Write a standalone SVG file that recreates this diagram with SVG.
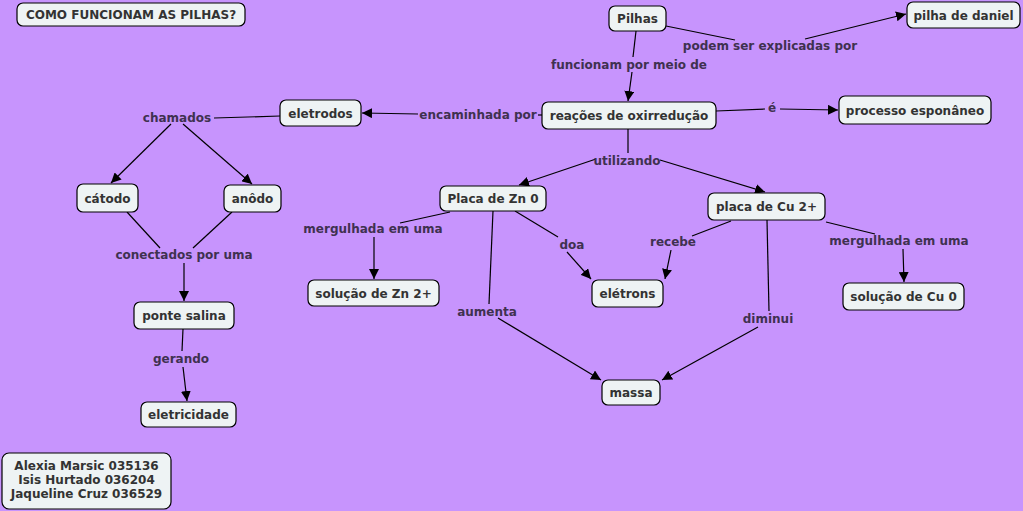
<svg xmlns="http://www.w3.org/2000/svg" width="1023" height="511" viewBox="0 0 1023 511">
<style>
.n rect{fill:#eef3f4;stroke:#000;stroke-width:1.2}
.n text{font-family:"DejaVu Sans",Verdana,sans-serif;font-weight:bold;font-size:12px;fill:#333;text-anchor:middle}
.l{font-family:"DejaVu Sans",Verdana,sans-serif;font-weight:bold;font-size:12px;fill:#3f3150;text-anchor:middle}
.c line,.c polyline{stroke:#000;stroke-width:1.2;fill:none}
.a{marker-end:url(#ah)}
</style>
<defs>
<marker id="ah" viewBox="0 0 10 10" refX="10" refY="5" markerWidth="10" markerHeight="10" markerUnits="userSpaceOnUse" orient="auto"><path d="M0,0L10,5L0,10z" fill="#000"/></marker>
</defs>
<rect width="1023" height="511" fill="#c794fd"/>
<g class="c">
<line x1="666" y1="26" x2="735" y2="40"/><line class="a" x1="805" y1="39" x2="906" y2="14"/>
<line x1="636" y1="31" x2="633" y2="57"/><line class="a" x1="632" y1="72" x2="628" y2="101"/>
<line x1="716" y1="111" x2="765" y2="109"/><line class="a" x1="780" y1="109" x2="838" y2="110"/>
<line x1="542" y1="115" x2="538" y2="115"/><line class="a" x1="418" y1="114" x2="362" y2="113"/>
<line x1="280" y1="116" x2="214" y2="118"/>
<line class="a" x1="171" y1="124" x2="111" y2="183"/>
<line class="a" x1="183" y1="124" x2="252" y2="184"/>
<line x1="127" y1="212" x2="160" y2="248"/><line x1="232" y1="212" x2="193" y2="248"/>
<line class="a" x1="184" y1="263" x2="184" y2="301"/>
<line x1="183" y1="329" x2="182" y2="351"/><line class="a" x1="183" y1="367" x2="187" y2="401"/>
<line x1="628" y1="129" x2="628" y2="153"/>
<line class="a" x1="596" y1="159" x2="519" y2="185"/>
<line class="a" x1="660" y1="160" x2="765" y2="192"/>
<line x1="450" y1="212" x2="400" y2="223"/><line class="a" x1="374" y1="237" x2="374" y2="279"/>
<line x1="515" y1="211" x2="558" y2="237"/><line class="a" x1="567" y1="252" x2="591" y2="279"/>
<line x1="731" y1="221" x2="692" y2="236"/><line class="a" x1="671" y1="250" x2="665" y2="279"/>
<line x1="826" y1="222" x2="875" y2="234"/><line class="a" x1="903" y1="249" x2="904" y2="282"/>
<line x1="493" y1="211" x2="489" y2="304"/><line class="a" x1="498" y1="318" x2="601" y2="380"/>
<line x1="767" y1="220" x2="769" y2="311"/><line class="a" x1="758" y1="327" x2="662" y2="380"/>
</g>
<text class="l" x="770" y="50">podem ser explicadas por</text>
<text class="l" x="629" y="69">funcionam por meio de</text>
<text class="l" x="772" y="112">é</text>
<text class="l" x="478" y="119">encaminhada por</text>
<text class="l" x="177" y="122">chamados</text>
<text class="l" x="627" y="165">utilizando</text>
<text class="l" x="184" y="259">conectados por uma</text>
<text class="l" x="181" y="363">gerando</text>
<text class="l" x="373" y="233">mergulhada em uma</text>
<text class="l" x="572" y="249">doa</text>
<text class="l" x="673" y="246">recebe</text>
<text class="l" x="899" y="245">mergulhada em uma</text>
<text class="l" x="487" y="316">aumenta</text>
<text class="l" x="768" y="323">diminui</text>
<g id="titulo" class="n"><rect x="17" y="3" width="228" height="23" rx="6"/><text x="131" y="19">COMO FUNCIONAM AS PILHAS?</text></g>
<g id="pilhas" class="n"><rect x="609" y="6" width="57" height="25" rx="6"/><text x="637.5" y="23">Pilhas</text></g>
<g id="daniel" class="n"><rect x="907" y="2" width="113" height="26" rx="6"/><text x="963.5" y="19.5">pilha de daniel</text></g>
<g id="reacoes" class="n"><rect x="542" y="102" width="174" height="27" rx="6"/><text x="629" y="120">reações de oxirredução</text></g>
<g id="processo" class="n"><rect x="839" y="96" width="152" height="28" rx="6"/><text x="915" y="114.5">processo esponâneo</text></g>
<g id="eletrodos" class="n"><rect x="280" y="100" width="81" height="26" rx="6"/><text x="320.5" y="117.5">eletrodos</text></g>
<g id="catodo" class="n"><rect x="77" y="184" width="61" height="28" rx="6"/><text x="107.5" y="202.5">cátodo</text></g>
<g id="anodo" class="n"><rect x="224" y="185" width="57" height="27" rx="6"/><text x="252.5" y="203">anôdo</text></g>
<g id="ponte" class="n"><rect x="134" y="302" width="100" height="27" rx="6"/><text x="184" y="320">ponte salina</text></g>
<g id="eletricidade" class="n"><rect x="141" y="402" width="95" height="25" rx="6"/><text x="188.5" y="419">eletricidade</text></g>
<g id="zn" class="n"><rect x="440" y="186" width="106" height="25" rx="6"/><text x="493" y="203">Placa de Zn 0</text></g>
<g id="cu" class="n"><rect x="708" y="193" width="117" height="27" rx="6"/><text x="766.5" y="211">placa de Cu 2+</text></g>
<g id="solzn" class="n"><rect x="308" y="280" width="131" height="26" rx="6"/><text x="373.5" y="297.5">solução de Zn 2+</text></g>
<g id="eletrons" class="n"><rect x="592" y="280" width="71" height="27" rx="6"/><text x="627.5" y="298">elétrons</text></g>
<g id="solcu" class="n"><rect x="843" y="283" width="121" height="27" rx="6"/><text x="903.5" y="301">solução de Cu 0</text></g>
<g id="massa" class="n"><rect x="602" y="380" width="58" height="25" rx="6"/><text x="631" y="397">massa</text></g>
<g id="autores" class="n"><rect x="2" y="453" width="169" height="56" rx="7"/><text x="86.5" y="470">Alexia Marsic 035136</text><text x="86.5" y="484">Isis Hurtado 036204</text><text x="86.5" y="498">Jaqueline Cruz 036529</text></g>
</svg>
